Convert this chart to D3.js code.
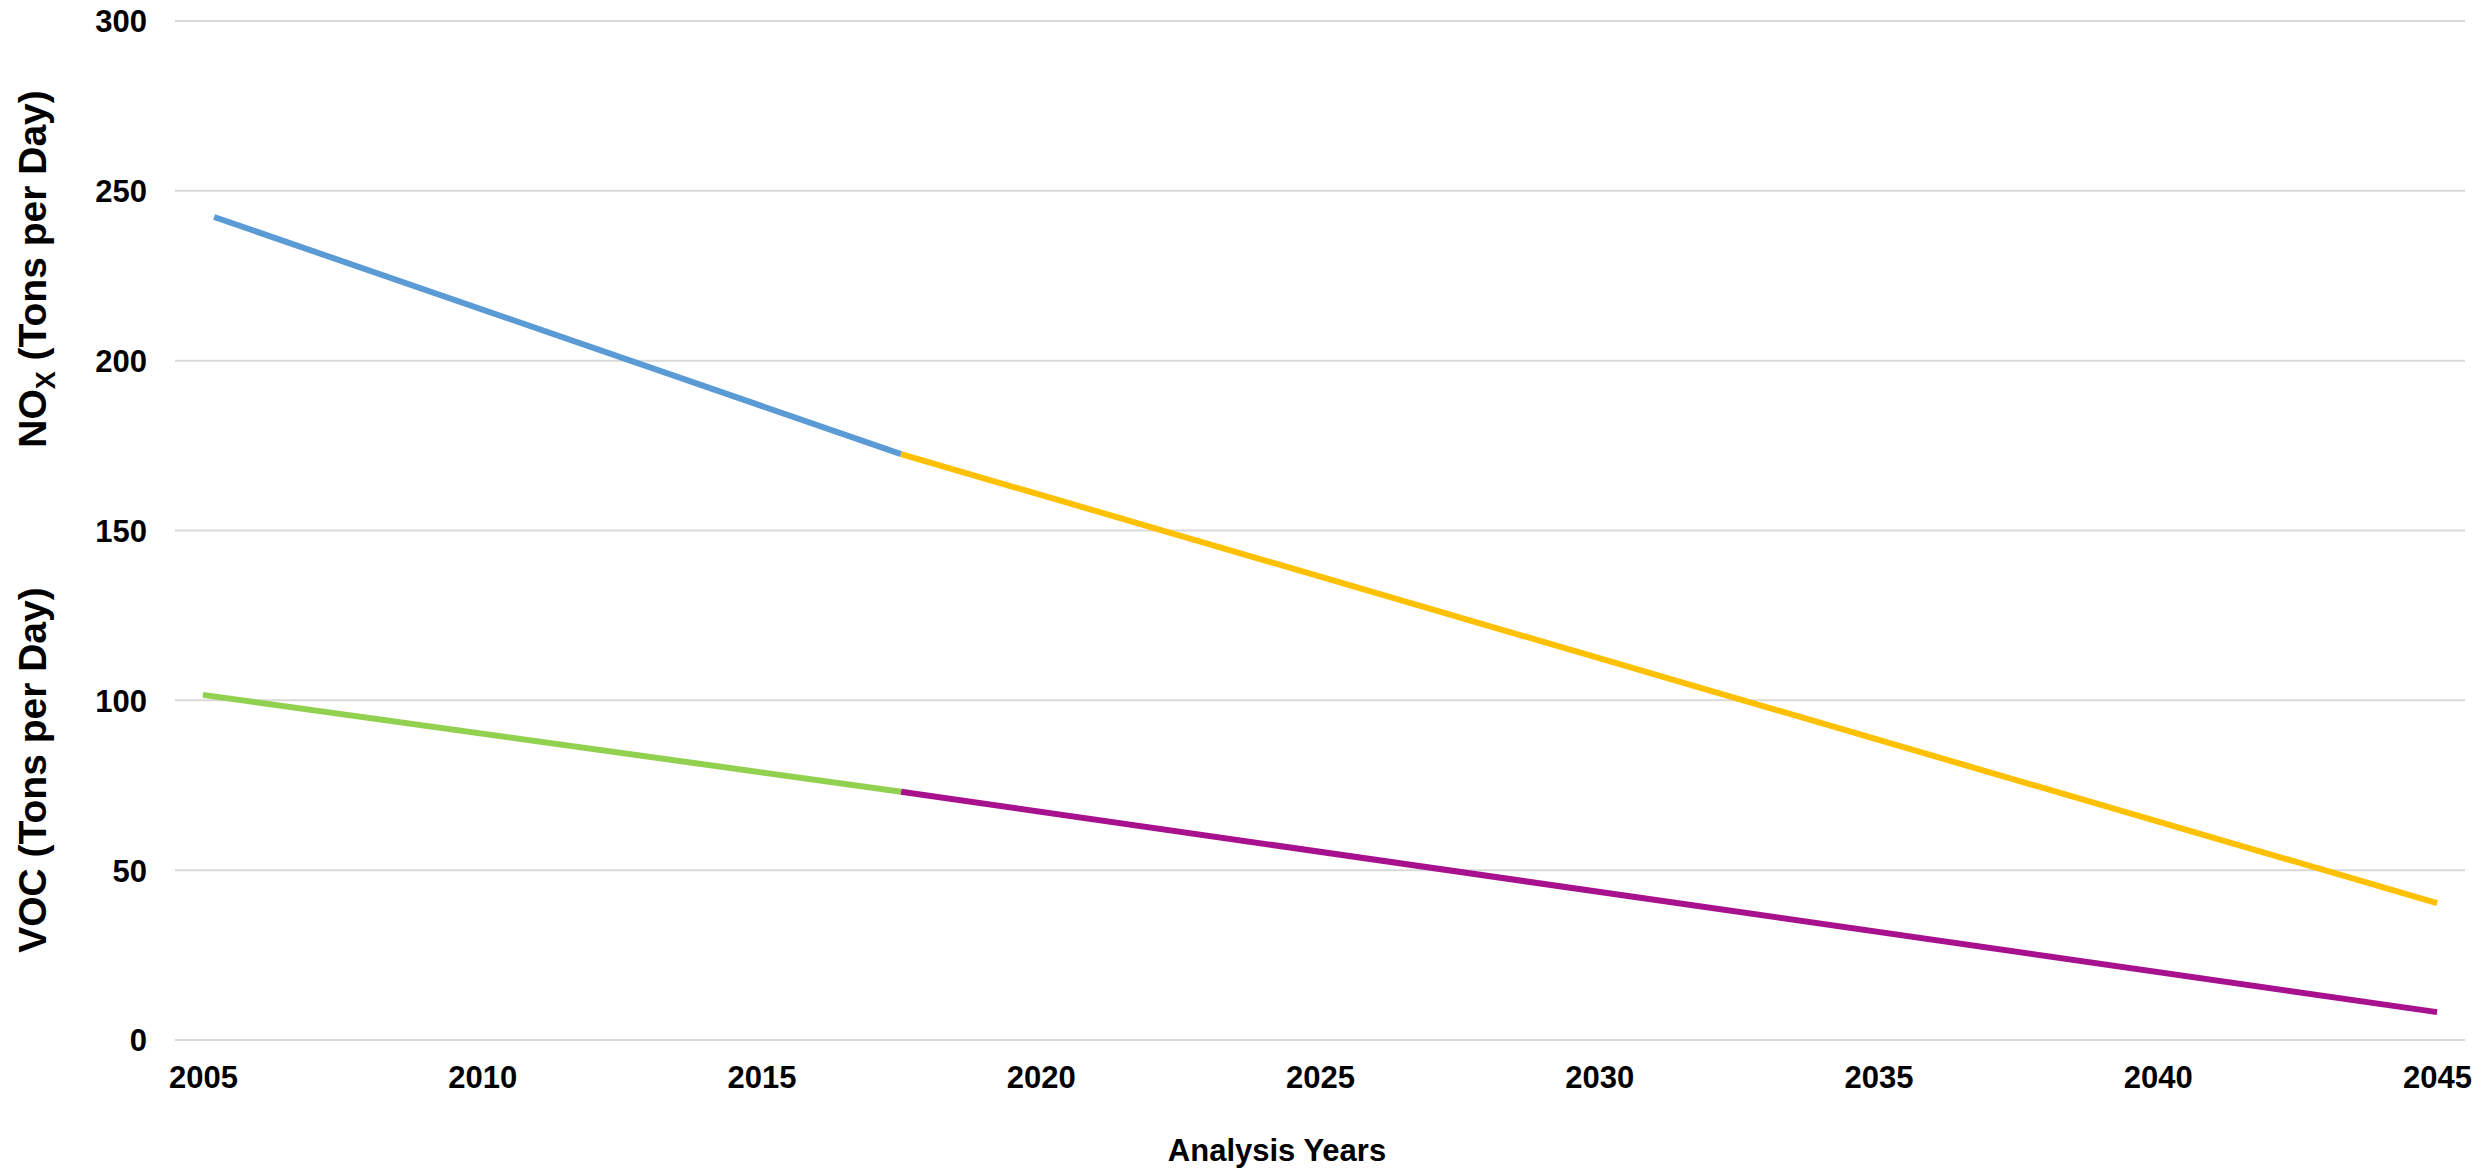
<!DOCTYPE html>
<html>
<head>
<meta charset="utf-8">
<script src="https://cdn.jsdelivr.net/npm/d3@7"></script>
<style>
  html, body { margin: 0; padding: 0; background: #ffffff; }
  svg { display: block; }
  text { font-family: "Liberation Sans", Arial, sans-serif; font-weight: bold; fill: #000; }
</style>
</head>
<body>
<svg id="chart" width="2486" height="1168"></svg>
<script>
// ---- data ----
const yTicks = [0, 50, 100, 150, 200, 250, 300];
const xTicks = [2005, 2010, 2015, 2020, 2025, 2030, 2035, 2040, 2045];

const noxBaseYears = [2005.2, 2017.5];
const noxBaseValues = [242.3, 172.5];
const noxProjYears = [2017.5, 2045];
const noxProjValues = [172.5, 40.3];

const vocBaseYears = [2005, 2017.5];
const vocBaseValues = [101.6, 73.1];
const vocProjYears = [2017.5, 2045];
const vocProjValues = [73.1, 8.2];

const seriesNames = ["NOx base", "NOx projected", "VOC base", "VOC projected"];
const seriesColors = ["#5B9BD5", "#FFC000", "#92D050", "#A8118E"];

const xTitle = "Analysis Years";

// ---- layout ----
const svg = d3.select("#chart");
const plotLeft = 175, plotRight = 2465, plotTop = 21, plotBottom = 1040;

const x = d3.scaleLinear().domain([2004.5, 2045.5]).range([plotLeft, plotRight]);
const y = d3.scaleLinear().domain([0, 300]).range([plotBottom, plotTop]);

// gridlines
svg.append("g")
  .selectAll("line")
  .data(yTicks)
  .join("line")
  .attr("x1", plotLeft).attr("x2", plotRight)
  .attr("y1", d => y(d)).attr("y2", d => y(d))
  .attr("stroke", "#D9D9D9")
  .attr("stroke-width", 2);

// y axis labels
const yAxis = d3.axisLeft(y).tickValues(yTicks).tickSize(0).tickPadding(0);
const gy = svg.append("g").attr("transform", `translate(147,0)`).call(yAxis);
gy.select(".domain").remove();
gy.selectAll("text")
  .attr("font-size", 31)
  .attr("font-family", "Liberation Sans, Arial, sans-serif")
  .attr("font-weight", "bold")
  .attr("fill", "#000")
  .attr("dy", "0.35em");

// x axis labels
const xAxis = d3.axisBottom(x).tickValues(xTicks).tickFormat(d3.format("d")).tickSize(0).tickPadding(0);
const gx = svg.append("g").attr("transform", `translate(0,1088)`).call(xAxis);
gx.select(".domain").remove();
gx.selectAll("text")
  .attr("font-size", 31)
  .attr("font-family", "Liberation Sans, Arial, sans-serif")
  .attr("font-weight", "bold")
  .attr("fill", "#000")
  .attr("y", 0)
  .attr("dy", 0);

// lines
const series = [
  { years: noxBaseYears, values: noxBaseValues },
  { years: noxProjYears, values: noxProjValues },
  { years: vocBaseYears, values: vocBaseValues },
  { years: vocProjYears, values: vocProjValues }
].map((s, i) => ({ name: seriesNames[i], color: seriesColors[i], pts: s.years.map((yr, j) => [yr, s.values[j]]) }));

const line = d3.line().x(d => x(d[0])).y(d => y(d[1]));

svg.append("g")
  .selectAll("path")
  .data(series)
  .join("path")
  .attr("d", d => line(d.pts))
  .attr("fill", "none")
  .attr("stroke", d => d.color)
  .attr("stroke-width", 6)
  .attr("stroke-linecap", "butt");

// axis titles
svg.append("text")
  .attr("x", 1277).attr("y", 1161)
  .attr("text-anchor", "middle")
  .attr("font-size", 31)
  .text(xTitle);

const nox = svg.append("text")
  .attr("transform", "translate(46,269) rotate(-90)")
  .attr("text-anchor", "middle")
  .attr("font-size", 39);
nox.append("tspan").text("NO");
nox.append("tspan").attr("font-size", 27).attr("dy", 9).text("X");
nox.append("tspan").attr("dy", -9).text(" (Tons per Day)");

svg.append("text")
  .attr("transform", "translate(46,770) rotate(-90)")
  .attr("text-anchor", "middle")
  .attr("font-size", 39)
  .text("VOC (Tons per Day)");
</script>
</body>
</html>
